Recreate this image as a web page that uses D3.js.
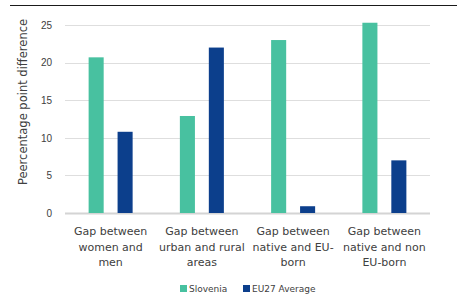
<!DOCTYPE html>
<html>
<head>
<meta charset="utf-8">
<script src="https://cdn.jsdelivr.net/npm/d3@7"></script>
<style>
  body { margin: 0; background: #fff; }
  svg { display: block; font-family: "DejaVu Sans", Verdana, sans-serif; }
</style>
</head>
<body>
<svg id="chart"></svg>
<script>
let outerWidth = 459;
let outerHeight = 295;
let margins = { top: 25, bottom: 82, left: 65, right: 29 };
let innerWidth = outerWidth - margins.left - margins.right;
let innerHeight = outerHeight - margins.top - margins.bottom;

let categories = [
  ['Gap between', 'women and', 'men'],
  ['Gap between', 'urban and rural', 'areas'],
  ['Gap between', 'native and EU-', 'born'],
  ['Gap between', 'native and non', 'EU-born']
]
let seriesNames = ['Slovenia', 'EU27 Average']
let slovenia = [20.7, 12.9, 23.0, 25.3]
let eu27 = [10.8, 22.0, 0.9, 7.0]
let yTicks = [0, 5, 10, 15, 20, 25]
let colors = ['#48c1a0', '#0c3f8c']

let svg = d3.select('#chart')
  .attr('width', outerWidth)
  .attr('height', outerHeight)
  .attr('viewBox', '0 0 ' + outerWidth + ' ' + outerHeight)

// top rule
svg.append('line')
  .attr('x1', 10).attr('x2', 457)
  .attr('y1', 5.5).attr('y2', 5.5)
  .attr('stroke', '#1a1a1a')
  .attr('stroke-width', 1.2)

let inner = svg.append('g')
  .attr('transform', 'translate(' + margins.left + ',' + margins.top + ')')

let catScale = d3.scaleBand()
  .domain(d3.range(categories.length))
  .range([0, innerWidth])

let subScale = d3.scaleBand()
  .domain([0, 1])
  .range([catScale.bandwidth() / 2 - 22, catScale.bandwidth() / 2 + 22])
  .paddingInner(0.48)

let yScale = d3.scaleLinear()
  .domain([0, 25])
  .range([innerHeight, 0])

// gridlines
inner.selectAll('.grid')
  .data(yTicks)
  .enter()
  .append('line')
  .attr('x1', 0).attr('x2', innerWidth)
  .attr('y1', d => Math.round(yScale(d)) + 0.5)
  .attr('y2', d => Math.round(yScale(d)) + 0.5)
  .attr('stroke', d => d === 0 ? '#d4d4d4' : '#dedede')
  .attr('stroke-width', d => d === 0 ? 2 : 1)

// y axis labels
let yAxis = d3.axisLeft(yScale).tickValues(yTicks).tickSize(0).tickPadding(13)
inner.append('g')
  .attr('font-size', 12)
  .call(yAxis)
  .call(g => g.select('.domain').remove())
  .selectAll('text')
  .attr('fill', '#404040')

let data = []
for (let i = 0; i < categories.length; i++) {
  data.push({ c: i, s: 0, v: slovenia[i] })
  data.push({ c: i, s: 1, v: eu27[i] })
}

inner.selectAll('rect.bar')
  .data(data)
  .enter()
  .append('rect')
  .attr('class', 'bar')
  .attr('x', d => catScale(d.c) + subScale(d.s))
  .attr('y', d => yScale(d.v))
  .attr('width', subScale.bandwidth())
  .attr('height', d => innerHeight - yScale(d.v))
  .attr('fill', d => colors[d.s])

// category labels, one text per line
let xLabels = inner.append('g')
  .attr('transform', 'translate(0,' + innerHeight + ')')
categories.forEach((lines, i) => {
  lines.forEach((l, j) => {
    xLabels.append('text')
      .attr('x', catScale(i) + catScale.bandwidth() / 2)
      .attr('y', 22 + j * 15.5)
      .attr('text-anchor', 'middle')
      .attr('font-size', 11)
      .attr('fill', '#404040')
      .text(l)
  })
})

// y title
svg.append('text')
  .attr('x', 0)
  .attr('y', 0)
  .attr('transform', 'translate(27,102) rotate(-90)')
  .attr('text-anchor', 'middle')
  .attr('font-size', 11.5)
  .attr('fill', '#404040')
  .text('Peercentage point difference')

// legend
let legend = svg.append('g')
  .attr('transform', 'translate(180,289)')
let legendX = [0, 63]
seriesNames.forEach((n, i) => {
  legend.append('rect')
    .attr('x', legendX[i])
    .attr('y', -4)
    .attr('width', 7)
    .attr('height', 7)
    .attr('fill', colors[i])
  legend.append('text')
    .attr('x', legendX[i] + 9)
    .attr('y', 3)
    .attr('font-size', 9)
    .attr('fill', '#404040')
    .text(n)
})
</script>
</body>
</html>
